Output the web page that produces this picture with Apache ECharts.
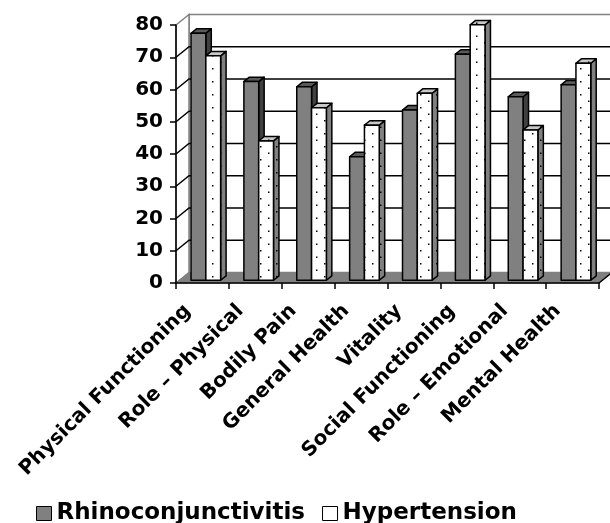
<!DOCTYPE html>
<html><head><meta charset="utf-8">
<script src="https://cdn.jsdelivr.net/npm/echarts@6/dist/echarts.min.js"></script>
<style>html,body{margin:0;padding:0;background:#fff}#c{width:610px;height:523px}</style>
</head><body><div id="c"></div>
<script>
const categories = ['Physical Functioning','Role – Physical','Bodily Pain','General Health','Vitality','Social Functioning','Role – Emotional','Mental Health'];
const rhinoValues = [76.6, 61.6, 60.0, 38.3, 52.8, 70.1, 56.9, 60.6];
const hyperValues = [69.6, 43.2, 53.5, 48.1, 58.0, 79.2, 46.6, 67.3];
const yTicks = [0, 10, 20, 30, 40, 50, 60, 70, 80];
const seriesNames = ['Rhinoconjunctivitis', 'Hypertension'];

// 3D look (pixel styling)
const DX = 13, DY = -10.5;      // depth of the box
const F1 = 0.26, D = 0.42;      // bar front depth fraction and bar depth fraction
const BAR_RATIO = 0.28;         // bar face width relative to category band
const FONT = 'DejaVu Sans';

function dotPattern(bg, dot) {
  const c = document.createElement('canvas');
  c.width = 16; c.height = 13;
  const g = c.getContext('2d');
  g.fillStyle = bg; g.fillRect(0, 0, 16, 13);
  g.fillStyle = dot;
  g.fillRect(4, 3, 1.5, 1.5);
  g.fillRect(12, 9.5, 1.5, 1.5);
  return { image: c, repeat: 'repeat' };
}
const patWhite = dotPattern('#ffffff', '#000000');
const patGray = dotPattern('#808080', '#000000');
const patTop = dotPattern('#c8c8c8', '#000000');

const yMax = yTicks[yTicks.length - 1];

function renderWalls(params, api) {
  const cs = params.coordSys;
  const x0 = cs.x, x1 = cs.x + cs.width;
  const v = api.value(1);
  const y = api.coord([0, v])[1];
  const yb = api.coord([0, 0])[1];
  const yt = api.coord([0, yMax])[1];
  const children = [];
  if (params.dataIndex === 0) {
    children.push({ type: 'polygon', shape: { points: [[x0 + DX, yt + DY], [x1 + DX, yt + DY], [x1 + DX, yb + DY], [x0 + DX, yb + DY]] },
      style: { fill: '#fff', stroke: '#808080', lineWidth: 1.5 } });
    children.push({ type: 'polygon', shape: { points: [[x0, yb], [x0, yt], [x0 + DX, yt + DY], [x0 + DX, yb + DY]] },
      style: { fill: '#fff', stroke: '#808080', lineWidth: 1.5 } });
    children.push({ type: 'polygon', shape: { points: [[x0, yb], [x1, yb], [x1 + DX, yb + DY], [x0 + DX, yb + DY]] },
      style: { fill: '#808080', stroke: '#808080', lineWidth: 1 } });
    children.push({ type: 'polyline', shape: { points: [[x1, yb], [x1 + DX, yb + DY]] },
      style: { fill: null, stroke: '#000', lineWidth: 1.5 } });
  } else if (v < yMax) {
    children.push({ type: 'polyline', shape: { points: [[x0, y], [x0 + DX, y + DY], [x1 + DX, y + DY]] },
      style: { fill: null, stroke: '#000', lineWidth: 1.5 } });
  }
  return { type: 'group', children };
}

function makeBarRenderer(s) {
  const front = s === 0 ? '#808080' : patWhite;
  const side = s === 0 ? '#404040' : patGray;
  const topc = s === 0 ? '#5a5a5a' : patTop;
  return function (params, api) {
    const i = api.value(0), v = api.value(1);
    const base = api.coord([i, 0]);
    const top = api.coord([i, v]);
    const band = api.size([1, 0])[0];
    const w = band * BAR_RATIO;
    const fx = base[0] + F1 * DX - w + s * w;
    const yBot = base[1] + F1 * DY, yTop = top[1] + F1 * DY;
    const ddx = D * DX, ddy = D * DY;
    const st = { stroke: '#000', lineWidth: 1.5, lineJoin: 'round' };
    return { type: 'group', children: [
      { type: 'polygon', shape: { points: [[fx + w, yBot], [fx + w, yTop], [fx + w + ddx, yTop + ddy], [fx + w + ddx, yBot + ddy]] },
        style: Object.assign({ fill: side }, st) },
      { type: 'polygon', shape: { points: [[fx, yTop], [fx + w, yTop], [fx + w + ddx, yTop + ddy], [fx + ddx, yTop + ddy]] },
        style: Object.assign({ fill: topc }, st) },
      { type: 'rect', shape: { x: fx, y: yTop, width: w, height: yBot - yTop },
        style: Object.assign({ fill: front }, st) }
    ] };
  };
}

const chart = echarts.init(document.getElementById('c'), null, { renderer: 'canvas' });
chart.setOption({
  animation: false,
  backgroundColor: '#fff',
  grid: { left: 176, right: 11, top: 25, bottom: 240 },
  legend: {
    top: 497, left: 31,
    icon: 'rect', itemWidth: 15, itemHeight: 14, itemGap: 17,
    textStyle: { fontFamily: FONT, fontWeight: 'bold', fontSize: 23, color: '#000' },
    data: [
      { name: seriesNames[0], itemStyle: { color: '#808080', borderColor: '#000', borderWidth: 1 } },
      { name: seriesNames[1], itemStyle: { color: '#fff', borderColor: '#000', borderWidth: 1 } }
    ]
  },
  xAxis: {
    type: 'category', data: categories, z: 10,
    axisLine: { lineStyle: { color: '#000', width: 1.5 } },
    axisTick: { show: true, length: 6, interval: 0, lineStyle: { color: '#000', width: 1.5 } },
    axisLabel: { interval: 0, rotate: 45, margin: 10, color: '#000', fontFamily: FONT, fontWeight: 'bold', fontSize: 20, padding: [0, 21, 0, 0] },
    splitLine: { show: false }
  },
  yAxis: {
    type: 'value', min: 0, max: yMax, interval: 10, z: 10,
    axisLine: { show: true, lineStyle: { color: '#000', width: 1.5 } },
    axisTick: { show: true, length: 6, lineStyle: { color: '#000', width: 1.5 } },
    axisLabel: { margin: 13, color: '#000', fontFamily: FONT, fontWeight: 'bold', fontSize: 20 },
    splitLine: { show: false }
  },
  series: [
    { type: 'custom', name: 'walls', z: 1, clip: false, silent: true,
      renderItem: renderWalls, encode: { x: 0, y: 1 },
      data: yTicks.map(v => [0, v]) },
    { type: 'custom', name: seriesNames[0], z: 2, clip: false,
      itemStyle: { color: '#808080', borderColor: '#000', borderWidth: 1 },
      renderItem: makeBarRenderer(0), encode: { x: 0, y: 1 },
      data: rhinoValues.map((v, i) => [i, v]) },
    { type: 'custom', name: seriesNames[1], z: 3, clip: false,
      itemStyle: { color: '#fff', borderColor: '#000', borderWidth: 1 },
      renderItem: makeBarRenderer(1), encode: { x: 0, y: 1 },
      data: hyperValues.map((v, i) => [i, v]) }
  ]
});
</script>
</body></html>
